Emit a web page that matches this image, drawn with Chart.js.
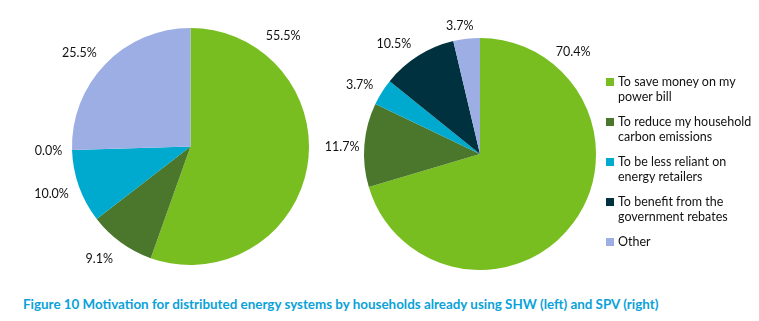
<!DOCTYPE html>
<html lang="en">
<head>
  <meta charset="UTF-8" />
  <title>Figure 10 Motivation for distributed energy systems</title>
  <script src="https://cdn.jsdelivr.net/npm/chart.js"></script>
  <style>
    body {
      margin: 0;
      background: #fff;
      font-family: Lato, "Open Sans", sans-serif;
    }
    .wrap {
      position: relative;
      width: 759px;
      height: 321px;
      overflow: hidden;
    }
    #leftPie {
      position: absolute;
      left: 0;
      top: 0;
    }
    #rightPie {
      position: absolute;
      left: 320px;
      top: 0;
    }
    .legend {
      position: absolute;
      left: 606px;
      top: 74px;
      margin: 0;
      padding: 0;
      list-style: none;
      font-size: 12.5px;
      color: #111;
      line-height: 15px;
    }
    .legend li {
      position: relative;
      padding-left: 12px;
      height: 40px;
    }
    .legend li span {
      position: absolute;
      left: 0;
      top: 4px;
      width: 8px;
      height: 8px;
    }
    .caption {
      position: absolute;
      left: 23px;
      top: 296px;
      font-weight: bold;
      font-size: 13.4px;
      color: #0AA2D8;
      white-space: nowrap;
    }
  </style>
</head>
<body>
  <div class="wrap">
    <canvas id="leftPie" width="320" height="290"></canvas>
    <canvas id="rightPie" width="290" height="290"></canvas>
    <ul class="legend" id="legend"></ul>
    <div class="caption">Figure 10 Motivation for distributed energy systems by households already using SHW (left) and SPV (right)</div>
  </div>

  <script>
    const categories = [
      ['To save money on my', 'power bill'],
      ['To reduce my household', 'carbon emissions'],
      ['To be less reliant on', 'energy retailers'],
      ['To benefit from the', 'government rebates'],
      ['Other']
    ];
    const shwValues = [55.5, 9.1, 10.0, 0.0, 25.5];
    const spvValues = [70.4, 11.7, 3.7, 10.5, 3.7];

    const colors = ['#78BE20', '#4A772B', '#00A9CE', '#00313F', '#9DAEE5'];

    // where the percentage labels sit: degrees clockwise from top, distance from centre
    const shwLabelPos = [[40, 144], [219, 145], [251, 147], [268, 142], [310, 145]];
    const spvLabelPos = [[42.5, 138], [273, 138], [300, 139], [322, 140], [351, 130]];

    // legend
    const legend = document.getElementById('legend');
    categories.forEach((lines, i) => {
      const li = document.createElement('li');
      li.innerHTML = '<span style="background:' + colors[i] + '"></span>' + lines.join('<br>');
      legend.appendChild(li);
    });

    const outsideLabels = {
      id: 'outsideLabels',
      afterDatasetsDraw(chart, args, opts) {
        const ctx = chart.ctx;
        const arc = chart.getDatasetMeta(0).data[0];
        const values = chart.data.datasets[0].data;
        ctx.save();
        ctx.font = '12.5px Lato, "Open Sans", sans-serif';
        ctx.fillStyle = '#111';
        ctx.textAlign = 'center';
        ctx.textBaseline = 'middle';
        values.forEach((v, i) => {
          const [deg, dist] = opts.pos[i];
          const a = (deg - 90) * Math.PI / 180;
          ctx.fillText(v.toFixed(1) + '%', arc.x + Math.cos(a) * dist, arc.y + Math.sin(a) * dist);
        });
        ctx.restore();
      }
    };

    function makePie(id, values, padding, labelPos) {
      return new Chart(document.getElementById(id), {
        type: 'pie',
        data: {
          labels: categories.map(c => c.join(' ')),
          datasets: [{
            data: values,
            backgroundColor: colors,
            borderWidth: 0
          }]
        },
        options: {
          responsive: false,
          animation: false,
          layout: { padding: padding },
          plugins: {
            legend: { display: false },
            tooltip: { enabled: false },
            outsideLabels: { pos: labelPos }
          }
        },
        plugins: [outsideLabels]
      });
    }

    makePie('leftPie', shwValues, { left: 72, top: 28, right: 11, bottom: 25 }, shwLabelPos);
    makePie('rightPie', spvValues, { left: 44, top: 38, right: 14, bottom: 20 }, spvLabelPos);
  </script>
</body>
</html>
